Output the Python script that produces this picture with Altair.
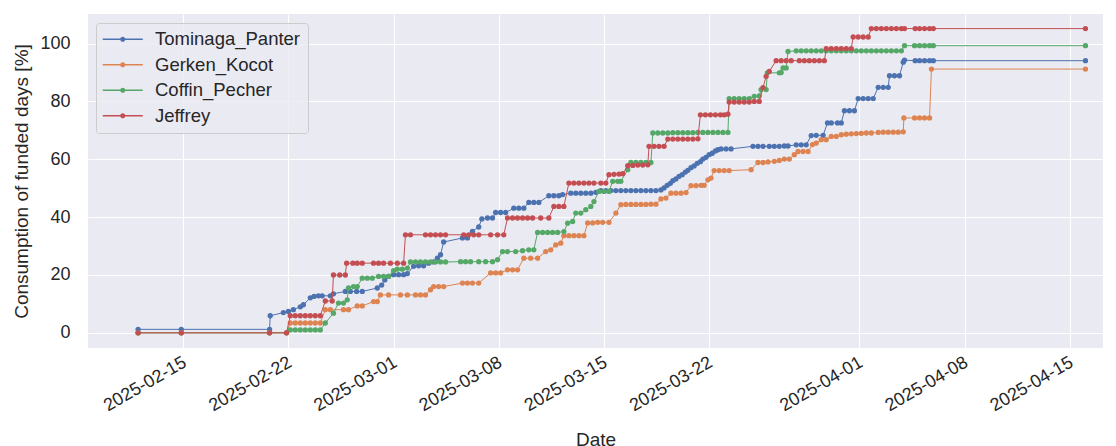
import altair as alt
import pandas as pd

series_names = ["Tominaga_Panter", "Gerken_Kocot", "Coffin_Pecher", "Jeffrey"]
series_colors = ["#4C72B0", "#DD8452", "#55A868", "#C44E52"]
x_tick_days = [(2, 15), (2, 22), (3, 1), (3, 8), (3, 15), (3, 22), (4, 1), (4, 8), (4, 15)]
y_ticks = [0, 20, 40, 60, 80, 100]

tominaga = [
    ("02-12 00", 1.2), ("02-14 21", 1.2), ("02-20 18", 1.2), ("02-20 19", 5.9), ("02-21 16", 7.0),
    ("02-22 00", 7.4), ("02-22 08", 8.0), ("02-22 19", 9.0), ("02-23 00", 9.7), ("02-23 11", 12.1),
    ("02-23 17", 12.6), ("02-24 00", 12.8), ("02-24 06", 12.8), ("02-24 19", 12.8), ("02-25 00", 13.5),
    ("02-25 19", 14.3), ("02-26 03", 14.3), ("02-26 13", 14.3), ("02-26 22", 14.3), ("02-27 22", 15.5),
    ("02-28 05", 16.5), ("02-28 10", 18.3), ("02-28 16", 19.5), ("03-01 00", 20.1), ("03-01 08", 20.1),
    ("03-01 16", 20.1), ("03-01 22", 20.5), ("03-02 08", 23.0), ("03-02 16", 23.2), ("03-03 00", 23.2),
    ("03-03 08", 24.1), ("03-03 16", 24.5), ("03-03 22", 25.8), ("03-04 03", 27.0), ("03-04 08", 31.4),
    ("03-05 14", 32.8), ("03-05 22", 32.8), ("03-06 06", 35.1), ("03-06 16", 36.6), ("03-06 21", 39.4),
    ("03-07 06", 39.7), ("03-07 14", 39.7), ("03-07 19", 41.6), ("03-08 03", 41.6), ("03-08 11", 41.6),
    ("03-09 00", 43.1), ("03-09 08", 43.1), ("03-09 16", 43.1), ("03-10 00", 45.1), ("03-10 08", 45.1),
    ("03-10 16", 45.1), ("03-11 08", 47.4), ("03-11 16", 47.4), ("03-12 00", 47.4), ("03-12 06", 47.8),
    ("03-12 19", 48.3), ("03-13 03", 48.3), ("03-13 11", 48.3), ("03-13 19", 48.3), ("03-14 03", 48.3),
    ("03-14 11", 48.6), ("03-14 19", 49.2), ("03-15 03", 49.2), ("03-15 11", 49.2), ("03-15 19", 49.2),
    ("03-16 03", 49.2), ("03-16 11", 49.2), ("03-16 19", 49.2), ("03-17 03", 49.2), ("03-17 11", 49.2),
    ("03-17 19", 49.2), ("03-18 03", 49.2), ("03-18 11", 49.2), ("03-18 19", 49.4), ("03-19 00", 50.1),
    ("03-19 05", 51.0), ("03-19 10", 51.7), ("03-19 14", 52.6), ("03-19 19", 53.2), ("03-20 00", 54.1),
    ("03-20 05", 54.7), ("03-20 10", 55.6), ("03-20 14", 56.2), ("03-20 19", 57.1), ("03-21 00", 57.7),
    ("03-21 05", 58.6), ("03-21 10", 59.2), ("03-21 14", 60.1), ("03-21 19", 60.7), ("03-22 00", 61.6),
    ("03-22 05", 62.1), ("03-22 10", 62.9), ("03-22 14", 63.3), ("03-22 19", 63.6), ("03-23 03", 63.6),
    ("03-23 11", 63.6), ("03-24 22", 64.5), ("03-25 06", 64.5), ("03-25 14", 64.5), ("03-26 00", 64.5),
    ("03-26 08", 64.5), ("03-26 16", 64.5), ("03-27 00", 64.6), ("03-27 06", 64.6), ("03-27 19", 65.0),
    ("03-28 03", 65.0), ("03-28 11", 65.0), ("03-28 19", 68.2), ("03-29 03", 68.3), ("03-29 14", 68.3),
    ("03-29 21", 72.6), ("03-30 03", 72.6), ("03-30 13", 72.6), ("03-30 19", 72.6), ("03-31 00", 76.8),
    ("03-31 08", 76.8), ("03-31 16", 76.8), ("03-31 22", 81.0), ("04-01 06", 81.0), ("04-01 14", 81.0),
    ("04-01 22", 81.0), ("04-02 06", 84.9), ("04-02 14", 84.9), ("04-02 22", 84.9), ("04-03 00", 88.9),
    ("04-03 08", 88.9), ("04-03 16", 88.9), ("04-03 22", 93.6), ("04-04 00", 94.3), ("04-04 17", 94.1),
    ("04-05 00", 94.1), ("04-05 08", 94.1), ("04-05 16", 94.1), ("04-05 22", 94.1), ("04-16 01", 94.1),
]

gerken = [
    ("02-12 00", 0.0), ("02-14 21", 0.0), ("02-20 18", 0.0), ("02-21 21", 0.0), ("02-22 03", 3.4),
    ("02-22 11", 3.4), ("02-22 19", 3.4), ("02-23 03", 3.4), ("02-23 11", 3.4), ("02-23 19", 3.4),
    ("02-24 03", 3.4), ("02-24 11", 8.0), ("02-24 19", 8.0), ("02-25 16", 8.0), ("02-26 00", 8.0),
    ("02-26 14", 9.3), ("02-26 22", 9.3), ("02-27 16", 10.8), ("02-27 22", 10.8), ("02-28 03", 13.1),
    ("02-28 16", 13.1), ("03-01 11", 13.1), ("03-01 22", 13.1), ("03-02 11", 13.1), ("03-02 19", 13.1),
    ("03-03 03", 13.1), ("03-03 11", 14.9), ("03-03 16", 16.0), ("03-04 00", 16.0), ("03-04 08", 16.0),
    ("03-05 14", 17.2), ("03-05 22", 17.2), ("03-06 06", 17.2), ("03-06 16", 17.2), ("03-07 11", 20.7),
    ("03-07 19", 20.7), ("03-08 03", 20.7), ("03-08 14", 21.8), ("03-08 22", 21.8), ("03-09 06", 21.8),
    ("03-09 16", 25.8), ("03-10 03", 25.8), ("03-10 14", 25.8), ("03-11 03", 28.1), ("03-11 11", 28.7),
    ("03-11 19", 30.4), ("03-12 03", 31.0), ("03-12 08", 33.6), ("03-12 16", 33.6), ("03-13 00", 33.6),
    ("03-13 08", 33.6), ("03-13 16", 33.6), ("03-13 22", 38.0), ("03-14 06", 38.0), ("03-14 14", 38.2),
    ("03-14 22", 38.2), ("03-15 08", 38.2), ("03-15 19", 41.4), ("03-16 03", 44.3), ("03-16 11", 44.4),
    ("03-16 19", 44.4), ("03-17 03", 44.4), ("03-17 11", 44.4), ("03-17 19", 44.4), ("03-18 03", 44.5),
    ("03-18 11", 44.5), ("03-18 19", 46.3), ("03-19 03", 46.6), ("03-19 11", 48.3), ("03-19 19", 48.3),
    ("03-20 03", 48.3), ("03-20 11", 48.5), ("03-20 19", 50.9), ("03-21 03", 50.9), ("03-21 11", 51.0),
    ("03-21 16", 51.0), ("03-21 22", 52.9), ("03-22 03", 53.5), ("03-22 08", 56.1), ("03-22 16", 56.1),
    ("03-23 00", 56.1), ("03-23 08", 56.1), ("03-24 19", 56.4), ("03-25 06", 58.9), ("03-25 14", 58.9),
    ("03-25 22", 59.1), ("03-26 08", 59.3), ("03-26 16", 59.6), ("03-27 00", 60.1), ("03-27 08", 60.1),
    ("03-27 16", 61.6), ("03-27 22", 62.7), ("03-28 06", 62.7), ("03-28 14", 62.7), ("03-28 21", 65.1),
    ("03-29 03", 65.6), ("03-29 11", 66.8), ("03-29 19", 66.8), ("03-30 03", 67.9), ("03-30 11", 67.9),
    ("03-30 19", 68.5), ("03-31 03", 68.7), ("03-31 11", 68.8), ("03-31 19", 68.9), ("04-01 03", 69.0),
    ("04-01 11", 69.1), ("04-01 19", 69.1), ("04-02 06", 69.3), ("04-02 14", 69.4), ("04-02 22", 69.4),
    ("04-03 06", 69.4), ("04-03 14", 69.4), ("04-03 22", 69.5), ("04-03 23", 74.3), ("04-04 16", 74.3),
    ("04-05 00", 74.3), ("04-05 08", 74.3), ("04-05 16", 74.3), ("04-05 19", 91.2), ("04-16 01", 91.2),
]

coffin = [
    ("02-12 00", 0.0), ("02-14 21", 0.0), ("02-20 18", 0.0), ("02-21 21", 0.0), ("02-22 03", 1.0),
    ("02-22 11", 1.0), ("02-22 19", 1.0), ("02-23 03", 1.0), ("02-23 11", 1.0), ("02-23 19", 1.0),
    ("02-24 03", 1.0), ("02-24 11", 3.4), ("02-25 00", 6.8), ("02-25 08", 10.3), ("02-25 16", 10.3),
    ("02-25 22", 11.4), ("02-26 00", 15.5), ("02-26 08", 16.0), ("02-26 14", 16.0), ("02-26 22", 18.9),
    ("02-27 06", 18.9), ("02-27 14", 18.9), ("02-28 00", 19.5), ("02-28 08", 19.5), ("02-28 16", 19.5),
    ("03-01 00", 21.5), ("03-01 06", 22.0), ("03-01 14", 22.0), ("03-01 22", 22.4), ("03-02 03", 24.5),
    ("03-02 11", 24.5), ("03-02 19", 24.5), ("03-03 03", 24.5), ("03-03 11", 24.5), ("03-03 19", 24.5),
    ("03-04 03", 24.5), ("03-04 11", 24.5), ("03-05 11", 24.6), ("03-05 19", 24.6), ("03-06 03", 24.6),
    ("03-06 16", 24.6), ("03-07 03", 24.6), ("03-07 14", 24.6), ("03-07 22", 25.3), ("03-08 06", 28.1),
    ("03-08 14", 28.1), ("03-09 03", 28.1), ("03-09 14", 28.4), ("03-10 00", 28.7), ("03-10 08", 28.7),
    ("03-10 14", 34.7), ("03-10 22", 34.7), ("03-11 06", 34.7), ("03-11 14", 34.7), ("03-11 22", 34.7),
    ("03-12 08", 35.0), ("03-12 14", 37.9), ("03-12 22", 38.5), ("03-13 03", 41.4), ("03-13 11", 41.4),
    ("03-13 19", 42.6), ("03-14 03", 43.7), ("03-14 08", 45.4), ("03-14 16", 48.9), ("03-15 00", 48.9),
    ("03-15 08", 48.9), ("03-15 14", 52.4), ("03-15 22", 52.4), ("03-16 03", 52.4), ("03-16 14", 56.4),
    ("03-16 19", 58.9), ("03-17 03", 58.9), ("03-17 11", 58.9), ("03-17 19", 58.9), ("03-18 03", 58.9),
    ("03-18 06", 69.1), ("03-18 14", 69.1), ("03-18 22", 69.1), ("03-19 06", 69.1), ("03-19 14", 69.2),
    ("03-19 22", 69.2), ("03-20 06", 69.2), ("03-20 14", 69.2), ("03-20 22", 69.2), ("03-21 06", 69.3),
    ("03-21 14", 69.3), ("03-21 22", 69.3), ("03-22 06", 69.3), ("03-22 14", 69.3), ("03-22 22", 69.3),
    ("03-23 06", 69.3), ("03-23 08", 81.0), ("03-23 16", 81.0), ("03-24 00", 81.0), ("03-24 08", 81.0),
    ("03-24 16", 81.0), ("03-25 00", 81.8), ("03-25 08", 81.9), ("03-25 11", 84.1), ("03-25 19", 84.1),
    ("03-25 21", 89.9), ("03-26 16", 89.9), ("03-26 19", 90.0), ("03-26 22", 91.6), ("03-27 03", 91.6),
    ("03-27 06", 97.3), ("03-27 19", 97.5), ("03-28 03", 97.5), ("03-28 11", 97.5), ("03-28 19", 97.5),
    ("03-29 03", 97.5), ("03-29 11", 97.5), ("03-29 19", 97.5), ("03-30 03", 97.5), ("03-30 11", 97.5),
    ("03-30 19", 97.5), ("03-31 03", 97.5), ("03-31 11", 97.5), ("03-31 19", 97.5), ("04-01 03", 97.5),
    ("04-01 11", 97.5), ("04-01 19", 97.5), ("04-02 03", 97.5), ("04-02 11", 97.5), ("04-02 19", 97.5),
    ("04-03 03", 97.5), ("04-03 11", 97.5), ("04-03 19", 97.5), ("04-04 00", 99.3), ("04-04 16", 99.3),
    ("04-05 00", 99.3), ("04-05 08", 99.3), ("04-05 16", 99.3), ("04-05 22", 99.3), ("04-16 01", 99.3),
]

jeffrey = [
    ("02-12 00", 0.0), ("02-14 21", 0.0), ("02-20 18", 0.0), ("02-21 21", 0.0), ("02-22 03", 5.9),
    ("02-22 11", 5.9), ("02-22 19", 5.9), ("02-23 03", 5.9), ("02-23 11", 5.9), ("02-23 19", 5.9),
    ("02-24 03", 5.9), ("02-24 11", 11.0), ("02-24 22", 11.0), ("02-25 00", 20.0), ("02-25 10", 20.0),
    ("02-25 19", 20.0), ("02-25 21", 24.1), ("02-26 07", 24.1), ("02-26 14", 24.1), ("02-26 22", 24.1),
    ("02-27 16", 24.1), ("02-28 00", 24.1), ("02-28 08", 24.1), ("02-28 19", 24.1), ("03-01 06", 24.1),
    ("03-01 16", 24.1), ("03-01 19", 33.9), ("03-02 03", 33.9), ("03-03 03", 33.9), ("03-03 11", 33.9),
    ("03-03 19", 33.9), ("03-04 03", 33.9), ("03-04 11", 33.9), ("03-05 16", 33.9), ("03-06 00", 33.9),
    ("03-06 08", 33.9), ("03-06 16", 33.9), ("03-07 11", 33.9), ("03-07 22", 33.9), ("03-08 08", 33.9),
    ("03-08 14", 39.7), ("03-08 22", 39.7), ("03-09 06", 39.7), ("03-09 14", 39.7), ("03-09 22", 39.7),
    ("03-10 06", 39.7), ("03-10 19", 39.7), ("03-11 08", 39.7), ("03-11 16", 43.7), ("03-12 00", 43.7),
    ("03-12 08", 43.7), ("03-12 16", 51.8), ("03-13 00", 51.8), ("03-13 08", 51.8), ("03-13 16", 51.8),
    ("03-14 00", 51.8), ("03-14 08", 51.8), ("03-14 19", 51.8), ("03-15 03", 51.8), ("03-15 08", 54.7),
    ("03-15 16", 54.8), ("03-16 00", 54.9), ("03-16 06", 55.0), ("03-16 14", 57.8), ("03-16 22", 57.9),
    ("03-17 06", 58.0), ("03-17 14", 58.0), ("03-17 22", 58.1), ("03-18 00", 64.5), ("03-18 08", 64.5),
    ("03-18 16", 64.5), ("03-19 00", 64.5), ("03-19 06", 67.0), ("03-19 14", 67.0), ("03-19 22", 67.0),
    ("03-20 06", 67.0), ("03-20 14", 67.0), ("03-20 22", 67.0), ("03-21 06", 67.1), ("03-21 10", 75.4),
    ("03-21 18", 75.4), ("03-22 02", 75.4), ("03-22 10", 75.4), ("03-22 18", 75.4), ("03-23 00", 75.4),
    ("03-23 06", 75.6), ("03-23 08", 79.8), ("03-23 16", 79.8), ("03-24 00", 79.8), ("03-24 08", 79.8),
    ("03-24 16", 79.8), ("03-25 00", 80.0), ("03-25 08", 80.0), ("03-25 14", 84.8), ("03-25 19", 88.7),
    ("03-26 00", 90.4), ("03-26 11", 94.1), ("03-26 19", 94.1), ("03-27 03", 94.1), ("03-27 11", 94.1),
    ("03-28 00", 94.1), ("03-28 08", 94.1), ("03-28 16", 94.1), ("03-29 00", 94.1), ("03-29 08", 94.1),
    ("03-29 16", 94.1), ("03-29 19", 98.3), ("03-30 03", 98.3), ("03-30 11", 98.3), ("03-30 19", 98.3),
    ("03-31 03", 98.3), ("03-31 11", 98.3), ("03-31 14", 102.3), ("03-31 22", 102.3), ("04-01 06", 102.3),
    ("04-01 14", 102.3), ("04-01 19", 105.2), ("04-02 03", 105.2), ("04-02 11", 105.2), ("04-02 19", 105.2),
    ("04-03 03", 105.2), ("04-03 11", 105.2), ("04-03 19", 105.2), ("04-04 00", 105.2), ("04-04 17", 105.2),
    ("04-05 00", 105.2), ("04-05 08", 105.2), ("04-05 16", 105.2), ("04-05 22", 105.2), ("04-16 01", 105.2),
]

rows = []
for name, pts in zip(series_names, [tominaga, gerken, coffin, jeffrey]):
    for t, v in pts:
        rows.append({"series": name,
                     "date": pd.to_datetime("2025-" + t, format="%Y-%m-%d %H"),
                     "value": v})
df = pd.DataFrame(rows)

FONT = "Liberation Sans"
TXT = "#262626"
TICK_FS = 18
LEGEND_FS = 18.5
TITLE_FS = 19

x_values = [alt.DateTime(year=2025, month=m, date=d) for m, d in x_tick_days]
x_domain = [alt.DateTime(year=2025, month=2, date=8, hours=16),
            alt.DateTime(year=2025, month=4, date=17, hours=5)]

color_scale = alt.Scale(domain=series_names, range=series_colors)

x_enc = alt.X("date:T", scale=alt.Scale(domain=x_domain),
              axis=alt.Axis(values=x_values, format="%Y-%m-%d", labelAngle=-30,
                            labelAlign="right", labelBaseline="top", labelOffset=-3,
                            labelPadding=5, ticks=False, domain=False, grid=True,
                            gridColor="white", gridWidth=1, labelFont=FONT,
                            labelFontSize=TICK_FS, labelColor=TXT, labelFlush=False,
                            labelOverlap=False, title="Date", titleFont=FONT,
                            titleFontSize=TITLE_FS, titleFontWeight="normal", titleColor=TXT,
                            titleBaseline="top", titleY=82))
y_enc = alt.Y("value:Q", scale=alt.Scale(domain=[-5.25, 110.25], nice=False, zero=False),
              axis=alt.Axis(values=y_ticks, ticks=False, domain=False, grid=True,
                            gridColor="white", gridWidth=1, labelFont=FONT,
                            labelFontSize=TICK_FS, labelColor=TXT, labelPadding=18,
                            title="Consumption of funded days [%]", titleFont=FONT,
                            titleFontSize=TITLE_FS, titleFontWeight="normal", titleColor=TXT,
                            titlePadding=8))

legend = alt.Legend(
    title=None, orient="none", legendX=8, legendY=9,
    symbolType="M-4,-0.14H4V0.14H-4Z M0.52,0A0.52,0.52,0,1,1,-0.52,0A0.52,0.52,0,1,1,0.52,0Z",
    symbolSize=100, symbolStrokeWidth=0, symbolOffset=10.5, labelOffset=23,
    labelFont=FONT, labelFontSize=LEGEND_FS, labelColor=TXT, rowPadding=6.5,
    padding=7, fillColor="rgba(234,234,242,0.8)", strokeColor="#CCCCCC",
    cornerRadius=3,
)

base = alt.Chart(df).encode(x=x_enc, y=y_enc)
layers = []
for name in series_names:
    sub = base.transform_filter(alt.datum.series == name)
    # points first in each series so the legend definition is the first one merged
    layers.append(sub.mark_point(filled=True, size=28, opacity=1, clip=True).encode(
        color=alt.Color("series:N", scale=color_scale, legend=legend)))
    layers.append(sub.mark_line(strokeWidth=1, clip=True).encode(
        color=alt.Color("series:N", scale=color_scale)))

chart = alt.layer(*layers).properties(
    width=1015, height=334,
    padding={"left": 80, "top": 6, "right": 5, "bottom": 98},
    autosize=alt.AutoSizeParams(type="none"),
).configure_view(fill="#EAEAF2", stroke=None)

chart.save("out.html", embed_options={"renderer": "svg", "actions": False})
